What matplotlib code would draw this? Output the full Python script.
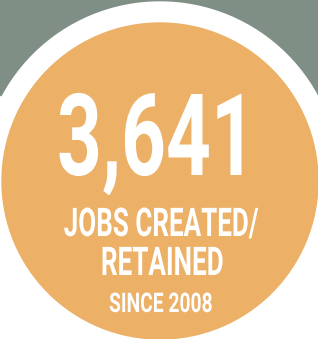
import matplotlib.pyplot as plt
from matplotlib.patches import Circle, Rectangle
from matplotlib.patheffects import AbstractPathEffect
from matplotlib.transforms import Affine2D

# data
jobs_total = "3,641"
label_lines = ["JOBS CREATED/", "RETAINED"]
since_label = "SINCE 2008"

# colours
band_color = "#7f8f86"
ring_color = "#ffffff"
badge_color = "#ecb067"
text_color = "#ffffff"


class Squeeze(AbstractPathEffect):
    """Narrow a text horizontally to a given ink width (pixels), keeping its centre."""

    def __init__(self, width):
        super().__init__()
        self.width = width

    def draw_path(self, renderer, gc, tpath, affine, rgbFace=None):
        box = tpath.transformed(affine).get_extents()
        cx = (box.x0 + box.x1) / 2
        sx = self.width / box.width
        squeeze = Affine2D().translate(-cx, 0).scale(sx, 1).translate(cx, 0)
        renderer.draw_path(gc, tpath, affine + squeeze, rgbFace)


W, H = 318, 339
fig = plt.figure(figsize=(W / 100, H / 100), dpi=100)
ax = fig.add_axes([0, 0, 1, 1])
ax.set_xlim(0, W)
ax.set_ylim(H, 0)
ax.axis("off")

# grey band at the top, white ring and orange badge
ax.add_patch(Rectangle((0, 0), W, 95, color=band_color, zorder=0))
ax.add_patch(Circle((160, 181), 179, color=ring_color, zorder=1))
ax.add_patch(Circle((160, 181), 158, color=badge_color, zorder=2))

font = ["Roboto", "DejaVu Sans"]
style = dict(fontweight="bold", family=font, color=text_color,
             ha="center", va="baseline", zorder=3)

ax.text(159, 175, jobs_total, fontsize=82, path_effects=[Squeeze(182)], **style)
ax.text(161, 236, label_lines[0], fontsize=28.5, path_effects=[Squeeze(194)], **style)
ax.text(162, 275, label_lines[1], fontsize=28.5, path_effects=[Squeeze(120)], **style)
ax.text(161, 312, since_label, fontsize=19.5, path_effects=[Squeeze(102)], **style)

fig.savefig("out.png", dpi=100)
